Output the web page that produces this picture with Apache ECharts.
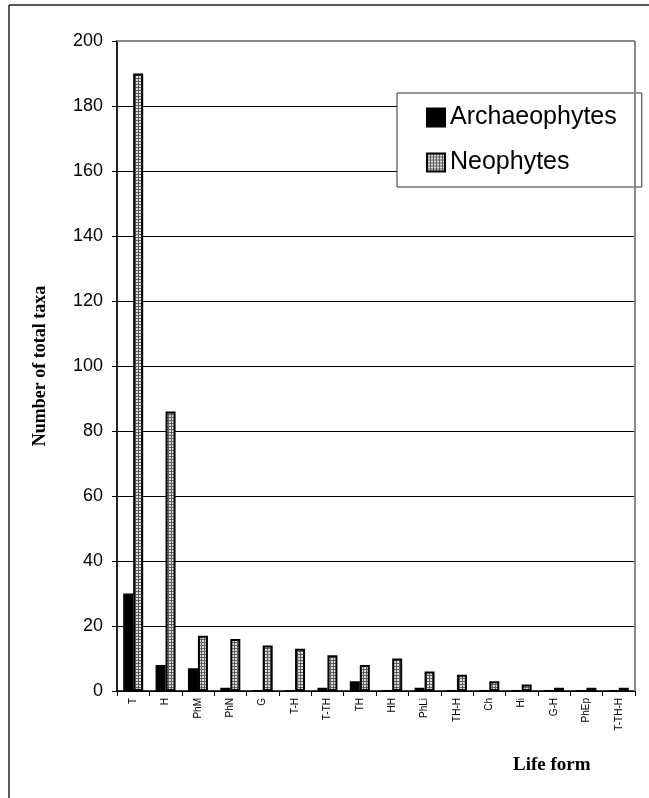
<!DOCTYPE html>
<html>
<head>
<meta charset="utf-8">
<script src="https://cdn.jsdelivr.net/npm/echarts@6/dist/echarts.min.js"></script>
<style>
html,body{margin:0;padding:0;background:#fff;}
#main{width:649px;height:798px;}
</style>
</head>
<body>
<div id="main"></div>
<script>
var categories = ['T','H','PhM','PhN','G','T-H','T-TH','TH','HH','PhLi','TH-H','Ch','Hi','G-H','PhEp','T-TH-H'];
var archaeophytes = [30,8,7,1,0,0,1,3,0,1,0,0,0,0,0,0];
var neophytes = [190,86,17,16,14,13,11,8,10,6,5,3,2,1,1,1];
var yTicks = [0,20,40,60,80,100,120,140,160,180,200];

var GL = 117, GR = 14, GT = 41, GB = 107;
var W = 649, H = 798;

// grid pattern for Neophytes bars
var pc = document.createElement('canvas');
pc.width = 3; pc.height = 3;
var pctx = pc.getContext('2d');
pctx.fillStyle = '#dcdcdc';
pctx.fillRect(0,0,3,3);
pctx.fillStyle = '#5f5f5f';
pctx.fillRect(0,0,3,1);
pctx.fillRect(0,0,1,3);

var chart = echarts.init(document.getElementById('main'));
chart.setOption({
  animation: false,
  backgroundColor: '#fff',
  grid: {left: GL, right: GR, top: GT, bottom: GB, containLabel: false},
  legend: {
    orient: 'vertical',
    left: 397, top: 93,
    backgroundColor: '#fff',
    borderColor: '#333', borderWidth: 1,
    padding: [12, 25, 12, 29],
    itemWidth: 18, itemHeight: 18, itemGap: 20,
    icon: 'rect',
    textStyle: {fontFamily: 'Liberation Sans, Arial', fontSize: 25, color: '#000'},
    data: ['Archaeophytes', 'Neophytes']
  },
  xAxis: {
    type: 'category',
    data: categories,
    axisLine: {lineStyle: {color: '#000', width: 1.5}},
    axisTick: {show: true, length: 5, lineStyle: {color: '#000'}},
    axisLabel: {interval: 0, rotate: 90, fontSize: 10, fontFamily: 'Liberation Sans, Arial', color: '#000', margin: 7}
  },
  yAxis: {
    type: 'value',
    min: 0, max: 200, interval: 20,
    name: 'Number of total taxa',
    nameLocation: 'middle',
    nameRotate: 90,
    nameGap: 68,
    nameTextStyle: {fontFamily: 'Liberation Serif, Times New Roman', fontWeight: 'bold', fontSize: 18, color: '#000'},
    axisLine: {show: true, lineStyle: {color: '#222', width: 2}},
    axisTick: {show: true, length: 5, lineStyle: {color: '#000'}},
    axisLabel: {fontSize: 18, fontFamily: 'Liberation Sans, Arial', color: '#000', margin: 14,
      formatter: function (v) { return yTicks.indexOf(v) >= 0 ? String(v) : ''; }},
    splitLine: {show: true, lineStyle: {color: '#000', width: 1}}
  },
  series: [
    {
      name: 'Archaeophytes', type: 'bar', data: archaeophytes,
      barWidth: 10, barGap: '0%',
      itemStyle: {color: '#000', borderColor: '#000', borderWidth: 2}
    },
    {
      name: 'Neophytes', type: 'bar', data: neophytes,
      barWidth: 10, barGap: '0%',
      itemStyle: {color: {image: pc, repeat: 'repeat'}, borderColor: '#000', borderWidth: 2}
    }
  ],
  graphic: [
    {type: 'line', z: 100, shape: {x1: 9, y1: 5, x2: W, y2: 5}, style: {stroke: '#222', lineWidth: 1.5}},
    {type: 'line', z: 100, shape: {x1: 9, y1: 5, x2: 9, y2: H}, style: {stroke: '#222', lineWidth: 1.5}},
    {type: 'line', z: 100, shape: {x1: GL, y1: GT, x2: W - GR, y2: GT}, style: {stroke: '#888', lineWidth: 2}},
    {type: 'line', z: 100, shape: {x1: W - GR, y1: GT, x2: W - GR, y2: H - GB}, style: {stroke: '#888', lineWidth: 2}},
    {type: 'text', left: 513, top: 756, style: {text: 'Life form', fill: '#000', font: 'bold 19px "Liberation Serif", "Times New Roman"'}}
  ]
});
</script>
</body>
</html>
